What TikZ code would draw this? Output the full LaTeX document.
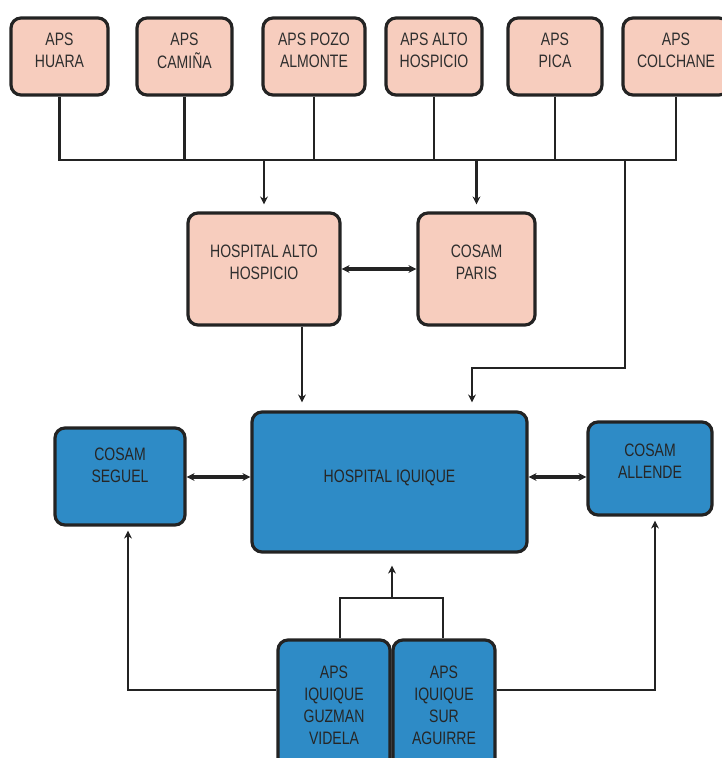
\documentclass[tikz,border=0pt]{standalone}
\usepackage{fontspec}
\setmainfont{Liberation Sans}[FakeStretch=0.78]
\usetikzlibrary{arrows.meta}
\definecolor{pinkbox}{HTML}{F7CDBE}
\definecolor{bluebox}{HTML}{2E8BC6}
\definecolor{edge}{HTML}{232323}
\definecolor{txt}{HTML}{2E2E2E}
\newcommand{\liftup}[2]{\raisebox{#1}[\height][\depth]{\begin{tabular}{@{}c@{}}#2\end{tabular}}}
\begin{document}
\begin{tikzpicture}[x=1pt,y=-1pt,
 box/.style={draw=edge,line width=3.2pt,rounded corners=10pt,align=center,inner sep=0pt,text=txt,font=\fontsize{18}{22}\selectfont},
 pbox/.style={box,fill=pinkbox},
 bbox/.style={box,fill=bluebox,text=black!85},
 conn/.style={draw=edge,line width=2.8pt},
 arr/.style={conn,-{Stealth[length=8pt,width=8pt]}},
 biarr/.style={conn,line width=3.6pt,{Stealth[length=8pt,width=8pt]}-{Stealth[length=8pt,width=8pt]}}]
\useasboundingbox (0,0) rectangle (722,758);
% top row
\node[pbox,minimum width=97pt,minimum height=77pt] (huara) at (59.5,56.5) {\liftup{4pt}{APS\\HUARA}};
\node[pbox,minimum width=95pt,minimum height=77pt] (camina) at (184.5,56.5) {\liftup{4pt}{APS\\CAMIÑA}};
\node[pbox,minimum width=102pt,minimum height=77pt] (pozo) at (314,56.5) {\liftup{4pt}{APS POZO\\ALMONTE}};
\node[pbox,minimum width=96pt,minimum height=77pt] (alto) at (434,56.5) {\liftup{4pt}{APS ALTO\\HOSPICIO}};
\node[pbox,minimum width=94pt,minimum height=77pt] (pica) at (555,56.5) {\liftup{4pt}{APS\\PICA}};
\node[pbox,minimum width=106pt,minimum height=77pt] (colchane) at (676,56.5) {\liftup{4pt}{APS\\COLCHANE}};
% middle row
\node[pbox,minimum width=152pt,minimum height=112pt] (hah) at (264,269) {\liftup{5pt}{HOSPITAL ALTO\\HOSPICIO}};
\node[pbox,minimum width=117pt,minimum height=112pt] (paris) at (476.5,269) {\liftup{5pt}{COSAM\\PARIS}};
% blue row
\node[bbox,minimum width=275pt,minimum height=140pt] (hiq) at (389.5,482) {\liftup{4pt}{HOSPITAL IQUIQUE}};
\node[bbox,minimum width=130pt,minimum height=97pt] (seguel) at (120,476.5) {\liftup{9pt}{COSAM\\SEGUEL}};
\node[bbox,minimum width=124pt,minimum height=93pt] (allende) at (650,468.5) {\liftup{5pt}{COSAM\\ALLENDE}};
% bottom
\node[bbox,minimum width=112pt,minimum height=130pt] (gv) at (334,705) {APS\\IQUIQUE\\GUZMAN\\VIDELA};
\node[bbox,minimum width=102pt,minimum height=130pt] (sa) at (444,705) {APS\\IQUIQUE\\SUR\\AGUIRRE};
% coordinates
\coordinate (busY) at (0,160);
\coordinate (cdrop) at (625,160);
\coordinate (cturn) at (472,368);
\coordinate (midy) at (0,477);
\coordinate (brk) at (392,598);
\coordinate (lowy) at (0,690);
% top bus
\draw[conn] (huara.south) |- (colchane.south |- busY) -- (colchane.south);
\draw[conn] (camina.south) -- (camina.south |- busY);
\draw[conn] (pozo.south) -- (pozo.south |- busY);
\draw[conn] (alto.south) -- (alto.south |- busY);
\draw[conn] (pica.south) -- (pica.south |- busY);
\draw[arr,shorten >=7pt] (hah.north |- busY) -- (hah.north);
\draw[arr,shorten >=7pt] (paris.north |- busY) -- (paris.north);
\draw[arr,shorten >=8pt] (cdrop) |- (cturn) -- (cturn |- hiq.north);
\draw[biarr] (hah.east) -- (paris.west);
\draw[arr,shorten >=8pt] ([xshift=38pt]hah.south) -- ([xshift=38pt]hah.south |- hiq.north);
% blue row arrows
\draw[biarr] (seguel.east |- midy) -- (hiq.west |- midy);
\draw[biarr] (hiq.east |- midy) -- (allende.west |- midy);
% bottom connectors
\draw[conn] ([xshift=6pt]gv.north) |- (brk) -| ([xshift=-1pt]sa.north);
\draw[arr,shorten >=12pt] (brk) -- (brk |- hiq.south);
\draw[arr,shorten >=4pt] (gv.west |- lowy) -| ([xshift=8pt]seguel.south);
\draw[arr,shorten >=4pt] (sa.east |- lowy) -| ([xshift=5pt]allende.south);
\end{tikzpicture}
\end{document}
